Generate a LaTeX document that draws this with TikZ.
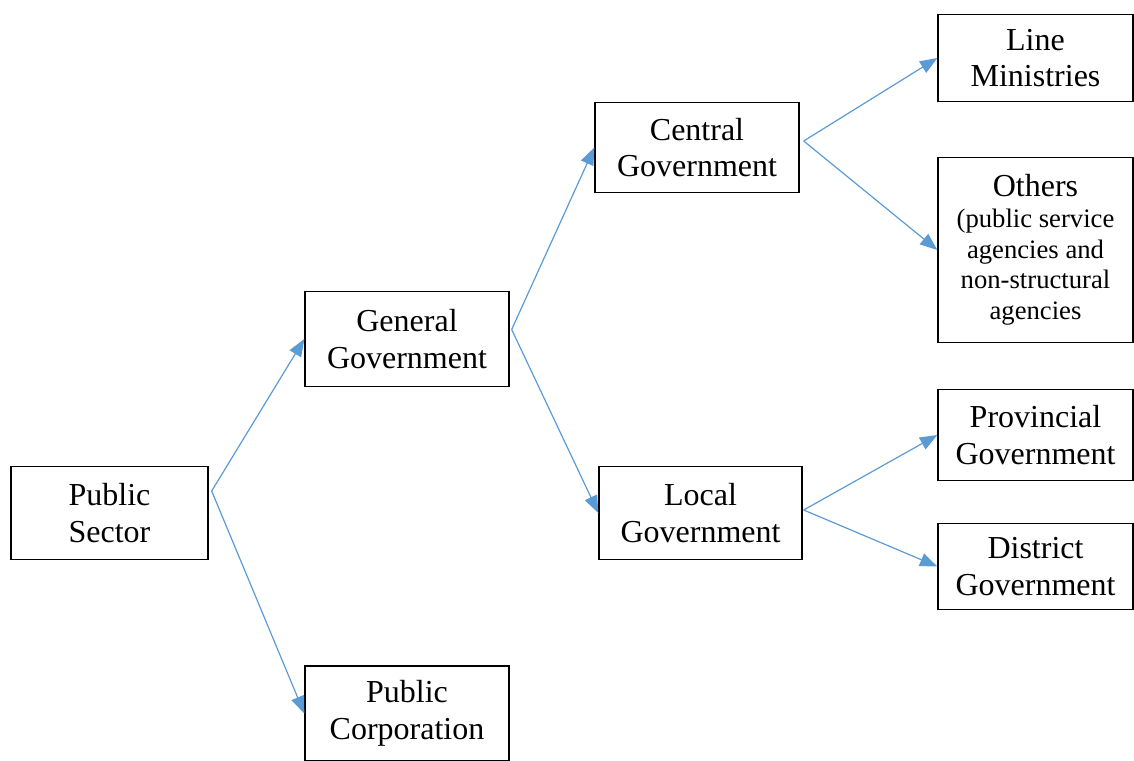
\documentclass[tikz,border=0pt]{standalone}
\usepackage{fontspec}
\setmainfont{Liberation Serif}
\usetikzlibrary{arrows.meta}
\definecolor{linkblue}{RGB}{91,155,213}

\begin{document}
\begin{tikzpicture}[x=0.75pt,y=-0.75pt,
	box/.style={draw, line width=1pt, align=center, inner sep=0pt, font=\fontsize{24}{27.6}\selectfont},
	link/.style={linkblue, line width=0.9pt, -{Triangle[length=13pt,width=10pt]}}]
	
	\useasboundingbox (0,0) rectangle (1134,760);
	
	% left column
	\node [box, minimum width=147.75pt, minimum height=69.75pt] (ps) at (109.5, 513) {Public\\Sector};
	
	% second column
	\node [box, minimum width=153pt, minimum height=71.25pt] (gg) at (407, 339) {General\\Government};
	\node [box, minimum width=153pt, minimum height=71.25pt] (pc) at (407, 713.5) {Public\\Corporation};
	
	% third column
	\node [box, minimum width=153pt, minimum height=67.5pt] (cg) at (697, 147.5) {Central\\Government};
	\node [box, minimum width=152.25pt, minimum height=69.75pt] (lg) at (700.5, 513) {Local\\Government};
	
	% right column
	\node [box, minimum width=146.25pt, minimum height=65.25pt] (lm) at (1035.5, 58) {Line\\Ministries};
	\node [box, minimum width=146.25pt, minimum height=138.75pt, font=\fontsize{20}{23}\selectfont] (ot) at (1035.5, 250) {{\fontsize{24}{27.6}\selectfont Others}\\(public service\\agencies and\\non-structural\\agencies};
	\node [box, minimum width=146.25pt, minimum height=68.25pt] (pg) at (1035.5, 435) {Provincial\\Government};
	\node [box, minimum width=146.25pt, minimum height=64.5pt] (dg) at (1035.5, 566.5) {District\\Government};
	
	% start points of the arrows
	\coordinate (ps-out) at ([shift={(3,-22)}]ps.east);
	\coordinate (gg-out) at ([shift={(2,-9.5)}]gg.east);
	\coordinate (cg-out) at ([shift={(4,-6.5)}]cg.east);
	\coordinate (lg-out) at ([shift={(1,-3)}]lg.east);
	
	\draw [link] (ps-out) -- (gg.west);
	\draw [link] (ps-out) -- (pc.west);
	\draw [link] (gg-out) -- (cg.west);
	\draw [link] (gg-out) -- (lg.west);
	\draw [link] (cg-out) -- (lm.west);
	\draw [link] (cg-out) -- (ot.west);
	\draw [link] (lg-out) -- (pg.west);
	\draw [link] (lg-out) -- (dg.west);
	
\end{tikzpicture}
\end{document}
